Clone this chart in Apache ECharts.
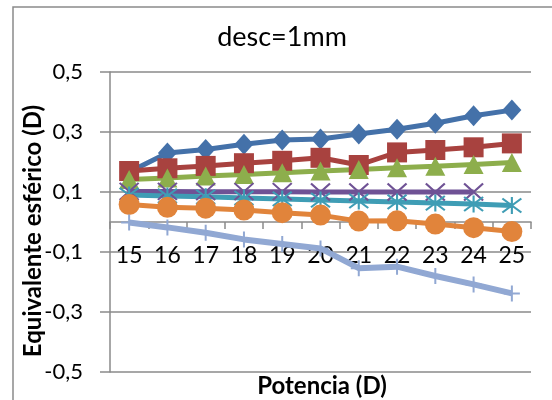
<!DOCTYPE html>
<html><head><meta charset="utf-8">
<script src="https://cdn.jsdelivr.net/npm/echarts@6/dist/echarts.min.js"></script>
<style>html,body{margin:0;padding:0;background:#fff}#c{width:552px;height:400px}</style>
</head><body><div id="c"></div>
<script>
const categories = ['15','16','17','18','19','20','21','22','23','24','25'];
const yTicks = [-0.5, -0.3, -0.1, 0.1, 0.3, 0.5];
const sBlue   = [0.167, 0.23, 0.242, 0.259, 0.273, 0.277, 0.293, 0.309, 0.329, 0.354, 0.373];
const sRed    = [0.17, 0.179, 0.187, 0.196, 0.204, 0.214, 0.19, 0.232, 0.24, 0.249, 0.262];
const sGreen  = [0.142, 0.147, 0.153, 0.158, 0.164, 0.17, 0.175, 0.181, 0.186, 0.192, 0.198];
const sPurple = [0.102, 0.102, 0.101, 0.101, 0.101, 0.1, 0.1, 0.1, 0.1, 0.1, null];
const sCyan   = [0.09, 0.087, 0.084, 0.08, 0.077, 0.073, 0.07, 0.067, 0.063, 0.06, 0.055];
const sOrange = [0.058, 0.049, 0.046, 0.04, 0.031, 0.023, 0.003, 0.004, -0.007, -0.019, -0.032];
const sLight  = [-0.002, -0.018, -0.036, -0.058, -0.073, -0.088, -0.154, -0.149, -0.18, -0.208, -0.238];

const FONT = 'Lato, "Open Sans", sans-serif';
const GRAY = '#8a8a8a';
const X_PATH = 'path://M0,0L10,10M10,0L0,10';
const STAR_PATH = 'path://M0,0L10,10M10,0L0,10M5,-1L5,11';
const PLUS_PATH = 'path://M5,0L5,10M0,5L10,5';

function mk(name, data, color, symbol, size, lw, stroke) {
  return {
    name, type: 'line', data, symbol, symbolSize: size, z: 3,
    lineStyle: { color, width: lw },
    itemStyle: stroke ? { color, borderColor: color, borderWidth: 2 } : { color, borderWidth: 0 },
    emphasis: { disabled: true },
    connectNulls: false
  };
}

// Plot spans y 72..372; the value 0 sits at y 222, where the category axis is drawn
const chart = echarts.init(document.getElementById('c'), null, { renderer: 'canvas' });
chart.setOption({
  animation: false,
  backgroundColor: '#fff',
  grid: [
    { left: 110, right: 21, top: 72, bottom: 28, containLabel: false, outerBoundsMode: 'none' },
    { left: 110, right: 21, top: 72, bottom: 178, containLabel: false, outerBoundsMode: 'none' }
  ],
  xAxis: [
    { type: 'category', gridIndex: 0, data: categories, boundaryGap: true, show: false },
    {
      type: 'category', gridIndex: 1, data: categories, boundaryGap: true, z: 1,
      axisLine: { show: true, onZero: false, lineStyle: { color: GRAY, width: 1.5 } },
      axisTick: { show: true, length: 7, inside: false, alignWithLabel: false, lineStyle: { color: GRAY, width: 1.5 } },
      axisLabel: { color: '#000', fontSize: 23, fontFamily: FONT, margin: 22, interval: 0 },
      splitLine: { show: false }
    }
  ],
  yAxis: [
    {
      type: 'value', gridIndex: 0, min: -0.5, max: 0.5,
      axisLine: { show: true, lineStyle: { color: GRAY, width: 1.5 } },
      axisTick: { show: true, length: 10, customValues: yTicks, lineStyle: { color: GRAY, width: 1.5 } },
      axisLabel: { color: '#000', fontSize: 22, fontFamily: FONT, margin: 27, customValues: yTicks,
        formatter: v => v.toFixed(1).replace('.', ',') },
      splitLine: { show: true, lineStyle: { color: GRAY, width: 1.5 } }
    },
    { type: 'value', gridIndex: 1, show: false }
  ],
  graphic: [
    { type: 'polyline', shape: { points: [[13, 420], [13, 7], [560, 7]] }, style: { stroke: GRAY, lineWidth: 1.5, fill: null }, silent: true },
    { type: 'text', x: 282, y: 37, style: { text: 'desc=1mm', font: '27px ' + FONT, fill: '#000', textAlign: 'center', textVerticalAlign: 'middle' } },
    { type: 'text', x: 322, y: 386, style: { text: 'Potencia (D)', font: 'bold 24px ' + FONT, fill: '#000', textAlign: 'center', textVerticalAlign: 'middle' } },
    { type: 'text', x: 33, y: 231, rotation: Math.PI / 2, style: { text: 'Equivalente esférico (D)', font: 'bold 24px ' + FONT, fill: '#000', textAlign: 'center', textVerticalAlign: 'middle' } }
  ],
  series: [
    mk('s1', sBlue, '#4471A9', 'diamond', [19, 21], 5),
    mk('s2', sRed, '#A8423F', 'rect', 20, 5),
    mk('s3', sGreen, '#8DAE4C', 'triangle', [20, 19], 5),
    mk('s4', sPurple, '#6F5295', X_PATH, [19, 17], 5, true),
    mk('s5', sCyan, '#3F9DB5', STAR_PATH, [19, 17], 5, true),
    mk('s6', sOrange, '#E1843B', 'circle', 21, 5),
    mk('s7', sLight, '#91A8D3', PLUS_PATH, 16, 6, true)
  ]
});
</script></body></html>
